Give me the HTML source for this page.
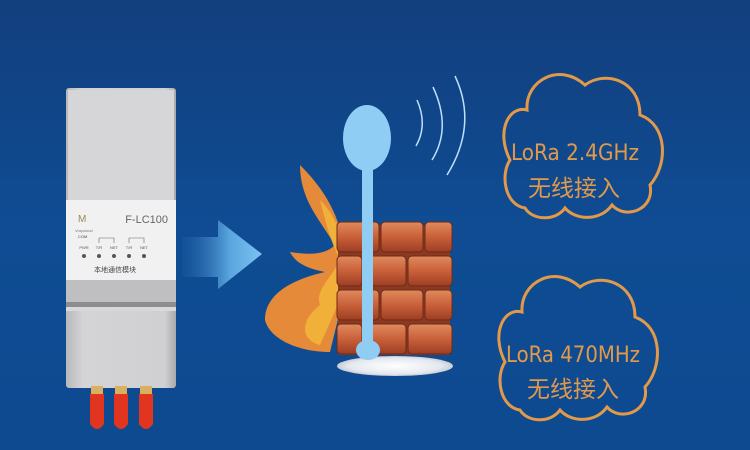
<!DOCTYPE html>
<html><head><meta charset="utf-8"><style>
html,body{margin:0;padding:0;width:750px;height:450px;overflow:hidden;background:#0f4a8e}
svg{display:block}
</style></head><body>
<svg width="750" height="450" viewBox="0 0 750 450" xmlns="http://www.w3.org/2000/svg">
<defs>
<linearGradient id="bg" x1="0" y1="0" x2="0" y2="1">
<stop offset="0" stop-color="#123f7e"/><stop offset="0.5" stop-color="#0f4c93"/><stop offset="1" stop-color="#0d4a90"/>
</linearGradient>
<linearGradient id="arr" x1="0" y1="0" x2="1" y2="0">
<stop offset="0" stop-color="#1a5aa0" stop-opacity="0.3"/><stop offset="0.6" stop-color="#5aa6e0"/><stop offset="1" stop-color="#7cc2f2"/>
</linearGradient>
<linearGradient id="body" x1="0" y1="0" x2="1" y2="0">
<stop offset="0" stop-color="#b8b8ba"/><stop offset="0.15" stop-color="#d4d4d6"/><stop offset="0.9" stop-color="#d0d0d2"/><stop offset="1" stop-color="#a9a9ab"/>
</linearGradient>
<linearGradient id="brick" x1="0" y1="0" x2="0" y2="1">
<stop offset="0" stop-color="#e08a5e"/><stop offset="0.5" stop-color="#c9603a"/><stop offset="1" stop-color="#9c3e22"/>
</linearGradient>
<radialGradient id="base" cx="0.5" cy="0.5" r="0.5">
<stop offset="0" stop-color="#ffffff"/><stop offset="0.8" stop-color="#e4e8ee"/><stop offset="1" stop-color="#c8ccd4"/>
</radialGradient>
</defs>
<rect width="750" height="450" fill="url(#bg)"/>

<!-- device -->
<rect x="66" y="88" width="110" height="300" rx="3" fill="url(#body)"/>
<rect x="68" y="90" width="106" height="110" fill="#d6d6d8"/>
<rect x="66" y="200" width="110" height="80" fill="#f1f1f2"/>
<rect x="66" y="280" width="110" height="22" fill="#bfbfc1"/>
<rect x="66" y="302" width="110" height="5" fill="#8d8d90"/>
<rect x="66" y="307" width="110" height="4" fill="#d8d8da"/>
<text x="168" y="223" font-family="Liberation Sans,sans-serif" font-size="11" fill="#666" text-anchor="end">F-LC100</text>
<text x="78" y="222" font-family="Liberation Sans,sans-serif" font-size="10" fill="#9a8a50">M</text>
<text x="75" y="232" font-family="Liberation Sans,sans-serif" font-size="4" fill="#777">Vraycloud</text>
<text x="78" y="238" font-family="Liberation Sans,sans-serif" font-size="4" fill="#444">COM</text>
<g font-family="Liberation Sans,sans-serif" font-size="4" fill="#555" text-anchor="middle">
<text x="84" y="249">PWR</text><text x="99" y="249">T/R</text><text x="114" y="249">NET</text><text x="129" y="249">T/R</text><text x="144" y="249">NET</text>
</g>
<path d="M99 243 v-5 h15 v5 M129 243 v-5 h15 v5" stroke="#666" stroke-width="0.6" fill="none"/>
<g fill="#555"><circle cx="84" cy="256" r="2"/><circle cx="99" cy="256" r="2"/><circle cx="114" cy="256" r="2"/><circle cx="129" cy="256" r="2"/><circle cx="144" cy="256" r="2"/></g>
<text x="115" y="272" font-family="Liberation Sans,'Noto Sans CJK SC',sans-serif" font-size="7" fill="#444" text-anchor="middle">本地通信模块</text>
<!-- antennas -->
<g>
<rect x="91" y="386" width="12" height="8" fill="#d9b060"/><rect x="115" y="386" width="12" height="8" fill="#d9b060"/><rect x="140" y="386" width="12" height="8" fill="#d9b060"/>
<path d="M90 394 h14 v30 q-7 10 -14 0z" fill="#e2351f"/>
<path d="M114 394 h14 v30 q-7 10 -14 0z" fill="#e2351f"/>
<path d="M139 394 h14 v30 q-7 10 -14 0z" fill="#e2351f"/>
</g>

<!-- arrow -->
<path d="M182 237 H218 V220 L262 254 L218 289 V277 H182Z" fill="url(#arr)"/>

<!-- fire -->
<path d="M300 165 C330 195 350 230 345 290 L330 352 C300 352 270 340 265 320 C265 295 290 280 325 272 C305 268 295 262 290 252 C310 255 325 255 335 245 C320 220 300 200 300 165Z" fill="#e58a38"/>
<path d="M320 200 C340 220 350 250 340 300 L320 345 C300 340 300 320 320 305 C315 290 330 280 340 260 C330 240 325 220 320 200Z" fill="#f0b03a"/>

<!-- wall -->
<rect x="338" y="225" width="112" height="130" fill="#8a3a22"/>
<g fill="url(#brick)" stroke="#6e2a14" stroke-width="1">
<rect x="337" y="222" width="42" height="30" rx="4"/><rect x="381" y="222" width="42" height="30" rx="4"/><rect x="425" y="222" width="27" height="30" rx="4"/>
<rect x="337" y="256" width="25" height="30" rx="4"/><rect x="364" y="256" width="42" height="30" rx="4"/><rect x="408" y="256" width="44" height="30" rx="4"/>
<rect x="337" y="290" width="42" height="30" rx="4"/><rect x="381" y="290" width="42" height="30" rx="4"/><rect x="425" y="290" width="27" height="30" rx="4"/>
<rect x="337" y="324" width="25" height="30" rx="4"/><rect x="364" y="324" width="42" height="30" rx="4"/><rect x="408" y="324" width="44" height="30" rx="4"/>
</g>

<!-- base & antenna -->
<ellipse cx="395" cy="366" rx="58" ry="10" fill="url(#base)"/>
<ellipse cx="367" cy="138" rx="24" ry="33" fill="#90cdf5"/>
<rect x="362" y="160" width="11" height="185" fill="#90cdf5"/>
<ellipse cx="368" cy="350" rx="12" ry="10" fill="#90cdf5"/>
<g stroke="#bfe0fb" stroke-width="1.5" fill="none">
<path d="M416 146 Q428 125 417 100"/>
<path d="M432 160 Q452 128 433 87"/>
<path d="M447 175 Q478 125 455 76"/>
</g>

<!-- clouds -->
<g fill="none" stroke="#e29a4a" stroke-width="3">
<path d="M525 208 C505 205 500 175 510 160 C495 130 510 105 527 110 C525 80 560 62 585 85 C605 70 640 80 640 115 C668 125 668 165 650 185 C655 210 625 220 612 205 C600 222 575 220 565 208 C555 222 532 220 525 208Z"/>
<path d="M520 410 C500 407 495 377 505 362 C490 332 505 307 522 312 C520 282 555 264 580 287 C600 272 635 282 635 317 C663 327 663 367 645 387 C650 412 620 422 607 407 C595 424 570 422 560 410 C550 424 527 422 520 410Z"/>
</g>
<g font-family="'DejaVu Sans','Noto Sans CJK SC',sans-serif" fill="#e29a4a" text-anchor="middle">
<text x="575" y="160" font-size="22" textLength="128" lengthAdjust="spacingAndGlyphs">LoRa 2.4GHz</text>
<text x="574" y="196" font-size="23" font-family="'Noto Sans CJK SC',sans-serif">无线接入</text>
<text x="573" y="362" font-size="22" textLength="134" lengthAdjust="spacingAndGlyphs">LoRa 470MHz</text>
<text x="573" y="397" font-size="23" font-family="'Noto Sans CJK SC',sans-serif">无线接入</text>
</g>
</svg>
</body></html>
